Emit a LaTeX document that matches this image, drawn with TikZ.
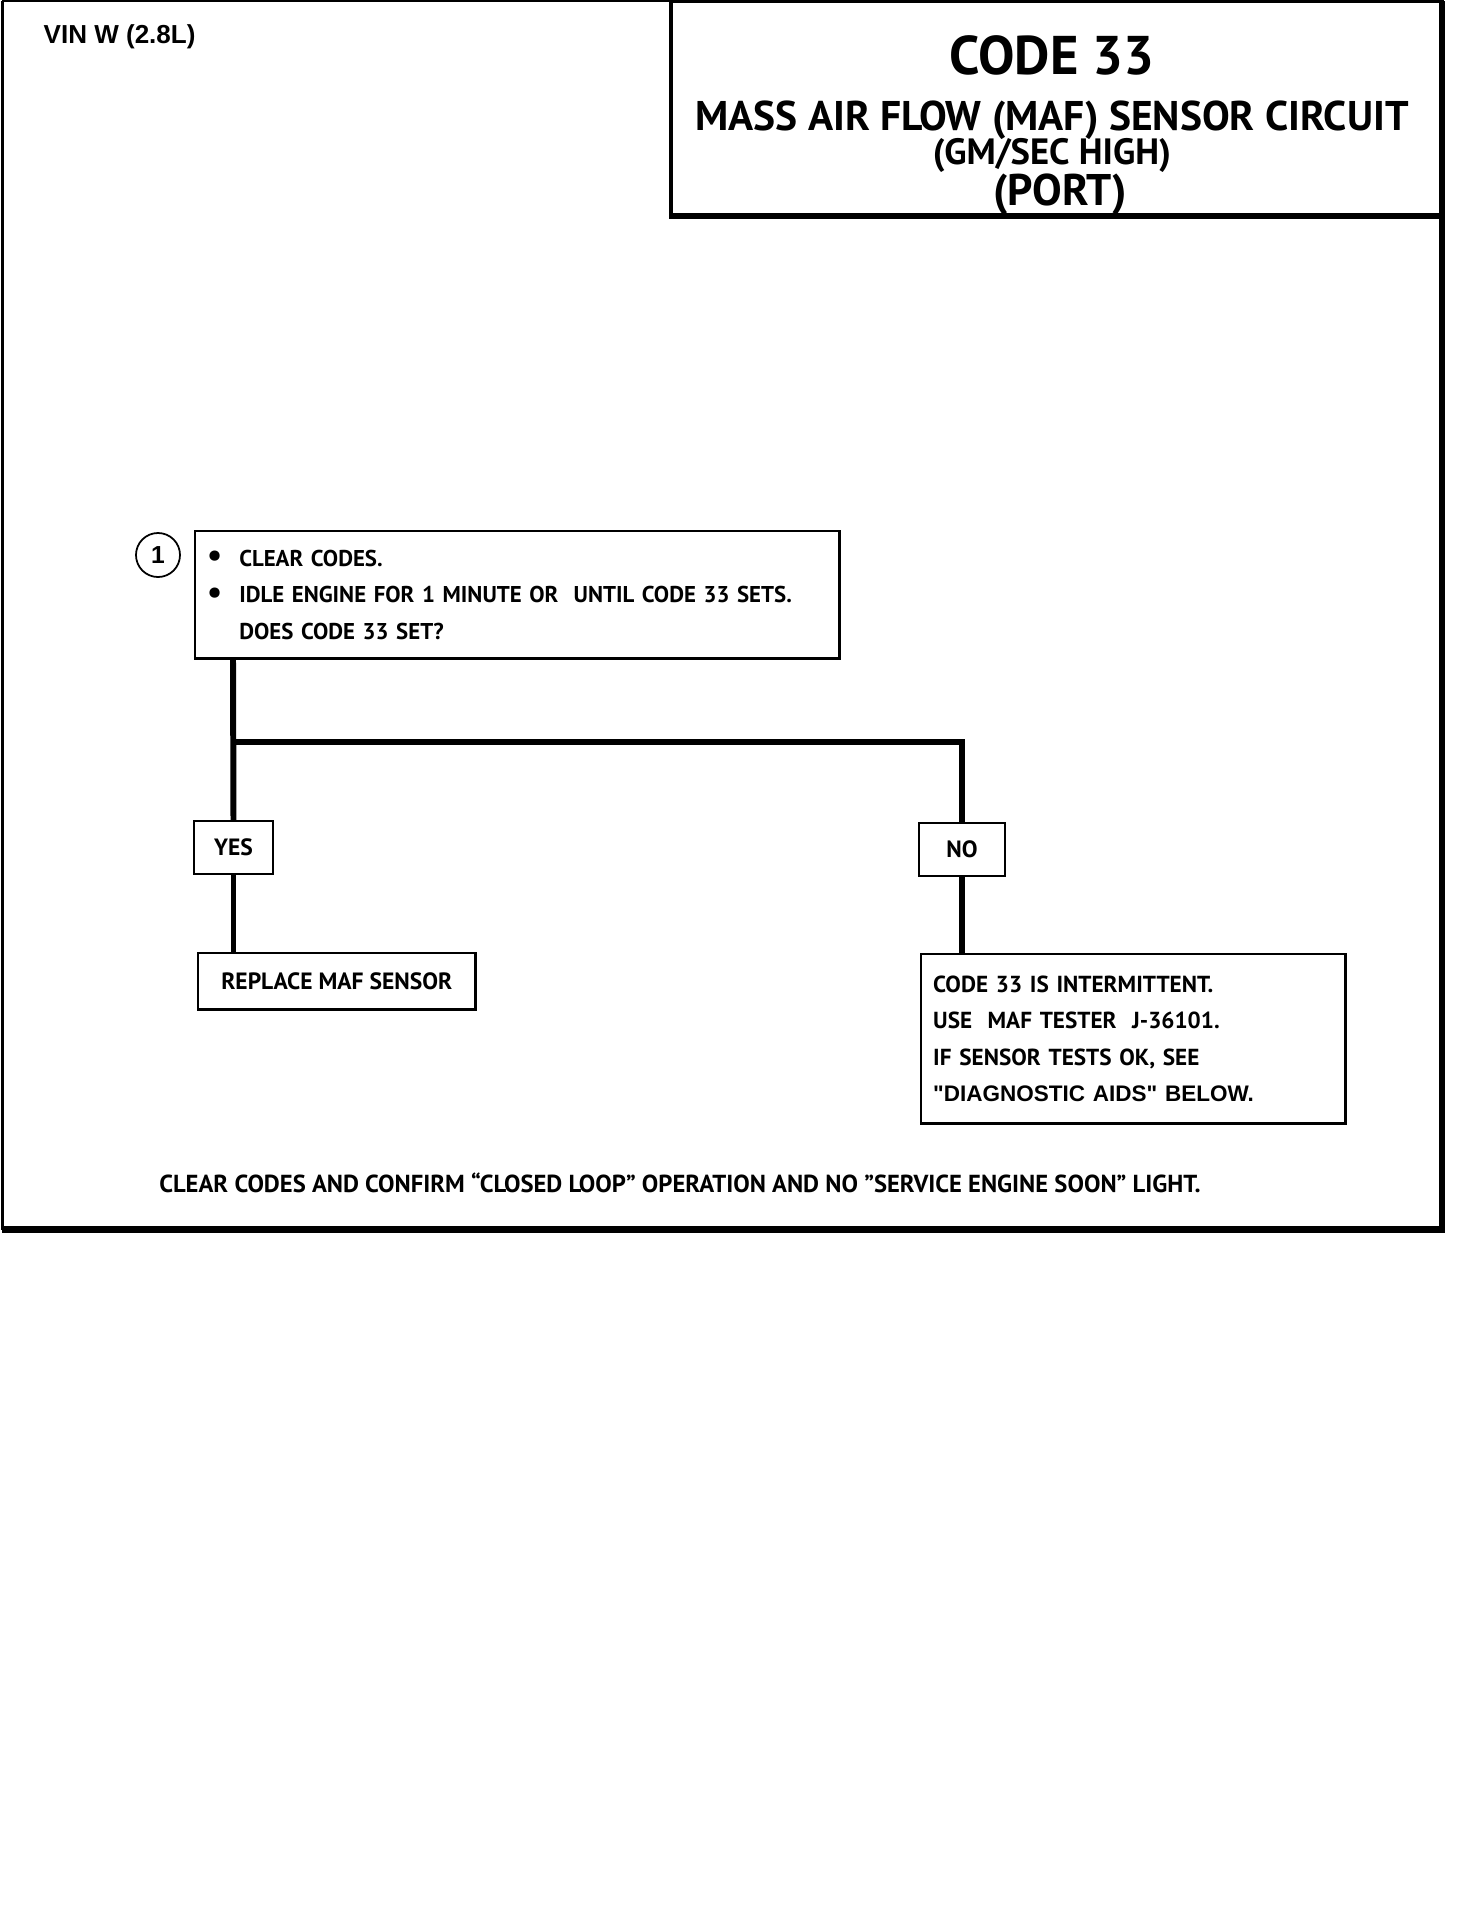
\documentclass[tikz,border=0pt]{standalone}
\usepackage{fontspec}
\setmainfont{PT Sans}
\newfontfamily\arialfont{Liberation Sans}
\usetikzlibrary{positioning,calc}

\newcommand{\bul}{\makebox[0.32cm][l]{\raisebox{-0.2pt}{\fontsize{9.5}{9}\selectfont\textbullet}}}

\begin{document}
\begin{tikzpicture}[
  x = 0.01cm, y = -0.01cm,
  box/.style    = {draw, line width=0.7pt, inner sep=0pt,
                   font=\bfseries\fontsize{6.7}{10.4}\selectfont},
  textbox/.style = {box, align=left, inner xsep=0.12cm},
  answer/.style = {box, minimum height=0.53cm},
  stepnum/.style = {draw, circle, line width=0.5pt, minimum size=0.44cm,
                   inner sep=0pt, font=\arialfont\bfseries\fontsize{7}{8}\selectfont},
  head/.style   = {inner sep=0pt, font=\bfseries},
  flow/.style   = {line width=1.7pt}
]
  \useasboundingbox (0,0) rectangle (1456,1926);

  % Outer frame, heavier on the right and bottom
  \draw[line width=0.8pt] (2.5,1) -- (1442,1);
  \draw[line width=0.8pt] (2.5,1) -- (2.5,1229.5);
  \draw[line width=1.9pt] (2.5,1229.5) -- (1442,1229.5) -- (1442,1);

  % Header
  \node[head, anchor=west, font=\arialfont\bfseries\fontsize{7.4}{9}\selectfont]
    (vin) at (43,37) {VIN W (2.8L)};
  \node[draw, line width=0.9pt, minimum width=7.705cm, minimum height=2.14cm,
        inner sep=0pt] (titlebox) at (1056.5,108) {};
  \draw[line width=1.2pt] (titlebox.south west) -- (titlebox.south east);
  \node[head, font=\bfseries\fontsize{15.5}{16}\selectfont] (code)   at (1052,55)  {CODE 33};
  \node[head, font=\bfseries\fontsize{11.8}{12}\selectfont] (maf)    at (1052,120) {MASS AIR FLOW (MAF) SENSOR CIRCUIT};
  \node[head, font=\bfseries\fontsize{10.4}{11}\selectfont] (gmsec)  at (1052,155) {(GM/SEC HIGH)};
  \node[head, font=\bfseries\fontsize{12.6}{13}\selectfont] (port)   at (1060,195) {(PORT)};

  % Step 1 and its answers
  \node[stepnum] (num1) at (158,555) {1};
  \node[textbox, anchor=north west, minimum width=6.44cm, minimum height=1.27cm,
        text width=6.2cm, font=\bfseries\fontsize{6.5}{10.4}\selectfont]
    (step1) at (194,530)
    {\bul CLEAR CODES.\\ \bul IDLE ENGINE FOR 1 MINUTE OR\ \ UNTIL CODE 33 SETS.\\
     \hspace*{0.32cm}DOES CODE 33 SET?};

  \node[answer, minimum width=0.79cm] (yes) at (233.5,847.5) {YES};
  \node[answer, minimum width=0.86cm] (no)  at (962,849.5)   {NO};

  \node[box, anchor=north west, minimum width=2.77cm, minimum height=0.56cm]
    (replace) at (197,952) {REPLACE MAF SENSOR};
  \node[textbox, anchor=north west, minimum width=4.22cm, minimum height=1.69cm,
        text width=4.0cm, font=\bfseries\fontsize{6.6}{10.3}\selectfont]
    (intermit) at (920,953)
    {CODE 33 IS INTERMITTENT.\\ USE\ \ MAF TESTER\ \ J-36101.\\
     IF SENSOR TESTS OK, SEE\\
     {\arialfont\fontsize{6.4}{10.3}\selectfont "DIAGNOSTIC AIDS" BELOW.}};

  % Connectors
  \coordinate (split) at (233,742);
  \coordinate (turn)  at (962,742);
  \draw[flow] (step1.south -| split) -- (yes.north);
  \draw[flow] (yes.south) -- (replace.north -| yes);
  \draw[flow] (split) -- (turn) -- (no.north);
  \draw[flow] (no.south) -- (intermit.north -| no);

  % Footer
  \node[head, font=\bfseries\fontsize{7}{8}\selectfont] (footer) at (680,1183)
    {CLEAR CODES AND CONFIRM “CLOSED LOOP” OPERATION AND NO "SERVICE ENGINE SOON" LIGHT.};
\end{tikzpicture}
\end{document}
